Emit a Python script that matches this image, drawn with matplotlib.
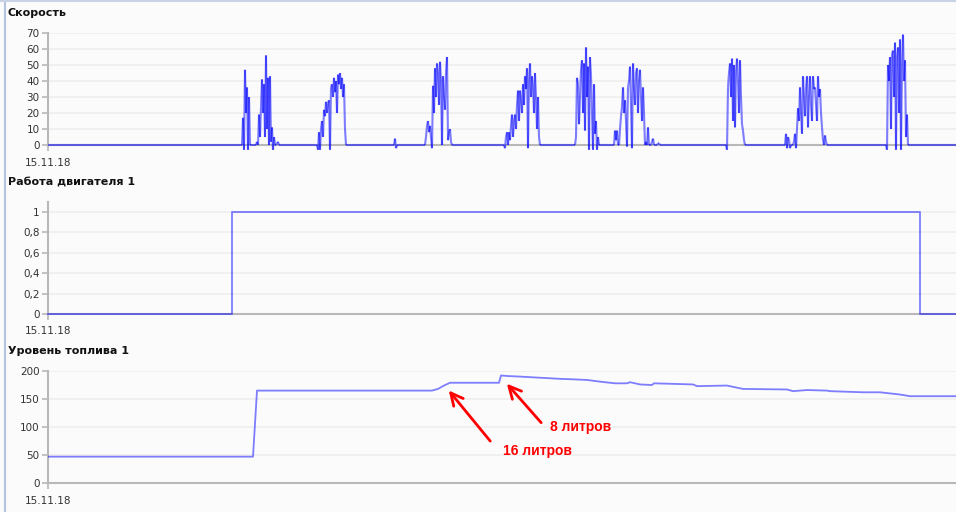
import numpy as np
import matplotlib
matplotlib.use("Agg")
import matplotlib.pyplot as plt
from matplotlib.collections import LineCollection
from matplotlib.lines import Line2D

# x axis = sample number from the start of the day (15.11.18), 0..908
x_end = 908
date_label = "15.11.18"

# speed bursts: start sample -> consecutive readings (km/h)
speed_bursts = {
    194: [0, 17, -3, 47, 20, 36, -3, 30, 0, 0],
    208: [0, 2, 0, 19, 5, 24, 41, 20, 38, 5, 56, 10, 42, 0, 43, 2, 11, -3, 5, 0, 0, 1, 2, 0, 0],
    269: [0, -3, 8, -3, 10, 15, 5, 22, 18, 27, 20, 26, 28, -3, 36, 38, 30, 42, 33, 40, 20,
          44, 38, 45, 35, 42, 30, 38, 10, 0],
    346: [0, 4, -2, 0],
    377: [0, 5, 12, 15, 8, 12, 5, -2, 37, 20, 48, 30, 51, 45, 25, 52, 40, 0, 43, 30,
          22, 45, 55, 3, 8, 10, 2, 0],
    456: [0, -2, 5, 8, 0, 8, 3, 12, 19, 5, 15, 19, 10, 25, 34, 15, 34, 28, 20, 38, 25,
          43, 35, 48, -2, 40, 51, 30, 43, 36, 20, 45, 30, 10, 30, 5, 0],
    527: [0, 5, 42, 38, 13, 30, 47, 53, 20, 51, 9, 61, 30, 49, -3, 55, 43, 20, -3, 38,
          7, 15, -3, 5, 0],
    566: [0, 9, 3, 9, 0, 0, 10, 18, 24, 36, 20, 28, 15, -1, 36, 40, 49, 25, -2, 51,
          35, 25, 45, 48, 20, 40, 47, 30, 15, 36, 20, 0, 2, 0, 11, 0, 0, 0, 2, 4,
          0, 0, 0, 0, 1, 1, 0],
    677: [0, 0, -3, 36, 45, 51, 30, 54, 15, 50, 11, 45, 54, 40, 20, 53, 30, 13, 9, 3, 0],
    737: [0, 7, -2, 5, 3, -2, 0, 0, 0, 2, 7, -2, 10, 23, 15, 36, 20, 7, 43, 30,
          18, 35, 43, 11, 30, 43, 25, 15, 43, 35, 36, 25, 15, 43, 30, 35, 20, 11, 3, 0,
          6, 2, 0],
    838: [0, -3, 50, 40, 55, 10, 57, 59, 30, 64, -3, 55, 61, 20, 66, -3, 50, 69, 40, 53,
          5, 19, 0],
}

# engine on/off
engine_t = [0, 184, 872, 908]
engine_v = [0, 1, 0, 0]

# fuel level (litres)
fuel_t = [0, 205, 209, 384, 390, 396, 402, 451, 453, 460, 472, 492, 512, 527, 539, 552,
          567, 579, 582, 592, 604, 606, 645, 649, 679, 695, 739, 745, 759, 779, 782,
          815, 832, 842, 852, 862, 908]
fuel_v = [47, 47, 165, 165, 168, 174, 179, 179, 192, 191, 190, 188, 186, 185, 184, 181,
          178, 178, 180, 176, 175, 178, 176, 173, 174, 168, 167, 164, 166, 165, 164,
          162, 162, 160, 158, 155, 155]

titles = ["Скорость", "Работа двигателя 1", "Уровень топлива 1"]
speed_ticks = [0, 10, 20, 30, 40, 50, 60, 70]
engine_ticks = [0, 0.2, 0.4, 0.6, 0.8, 1]
engine_ticklabels = ["0", "0,2", "0,4", "0,6", "0,8", "1"]
fuel_ticks = [0, 50, 100, 150, 200]

notes = ["16 литров", "8 литров"]

# assemble speed series
speed_t, speed_v = [0], [0]
for start, vals in speed_bursts.items():
    speed_t += list(start + np.arange(len(vals)))
    speed_v += vals
speed_t.append(x_end)
speed_v.append(0)

bg = "#fbfbfb"
blue = (0, 0, 1, 0.5)
gray = "#b8b8b8"
grid_c = "#eeeeee"

fig = plt.figure(figsize=(9.56, 5.12), dpi=100, facecolor=bg)

W, H = 956, 512
def make_ax(top_px, bottom_px):
    return fig.add_axes([48 / W, (H - bottom_px) / H, (W - 48) / W, (bottom_px - top_px) / H])

ax1 = make_ax(33, 151.4)
ax2 = make_ax(201.8, 314)
ax3 = make_ax(371, 483)

for ax, ticks in [(ax1, speed_ticks), (ax2, engine_ticks), (ax3, fuel_ticks)]:
    ax.set_facecolor(bg)
    ax.set_xlim(0, x_end)
    ax.spines["top"].set_visible(False)
    ax.spines["right"].set_visible(False)
    for s in ["left", "bottom"]:
        ax.spines[s].set_color(gray)
        ax.spines[s].set_linewidth(1.5)
    ax.set_yticks(ticks)
    for y in ticks[1:]:
        ax.axhline(y, color=grid_c, lw=1.2, zorder=0)
    ax.set_xticks([0])
    ax.set_xticklabels([date_label])
    ax.tick_params(axis="both", colors=gray, labelcolor="#333333", labelsize=7.5,
                   length=4, width=1.2)
    ax.tick_params(axis="y", pad=2)
    ax.tick_params(axis="x", pad=5)

# speed
ax1.set_ylim(-4, 70)
ax1.spines["bottom"].set_position(("data", 0))
ax1.spines["left"].set_bounds(0, 70)
pts = np.column_stack([speed_t, speed_v])
segs = np.stack([pts[:-1], pts[1:]], axis=1)
ax1.add_collection(LineCollection(segs, colors=[blue], linewidths=1.5, zorder=3))

# engine
ax2.set_ylim(0, 1.1)
ax2.set_yticklabels(engine_ticklabels)
ax2.plot(engine_t, engine_v, drawstyle="steps-post", color=blue, lw=1.3, zorder=3,
         clip_on=False)

# fuel
ax3.set_ylim(0, 200)
ax3.plot(fuel_t, fuel_v, color=blue, lw=1.3, zorder=3)

arrow_kw = dict(arrowstyle="->", color="#ff0000", lw=2, mutation_scale=22)
ax3.annotate("", xy=(399, 169), xytext=(444, 71), arrowprops=arrow_kw)
ax3.annotate("", xy=(457, 181), xytext=(495, 104), arrowprops=arrow_kw)
ax3.text(489, 57, notes[0], color="#ff0000", fontsize=10, fontweight="bold",
         family="Liberation Sans", ha="center", va="center")
ax3.text(533, 100, notes[1], color="#ff0000", fontsize=10, fontweight="bold",
         family="Liberation Sans", ha="center", va="center")

# panel titles
for title, ypx in zip(titles, [13, 182.5, 351.5]):
    fig.text(8 / W, 1 - ypx / H, title, fontsize=8, fontweight="bold", color="#111111",
             ha="left", va="center")

# window border
fig.add_artist(Line2D([5 / W, 5 / W], [0, 1], color="#b4c4dc", lw=1.5))
fig.add_artist(Line2D([0, 1], [1 - 1 / H, 1 - 1 / H], color="#c8d4e6", lw=1.5))

fig.savefig("out.png", dpi=100, facecolor=bg)
